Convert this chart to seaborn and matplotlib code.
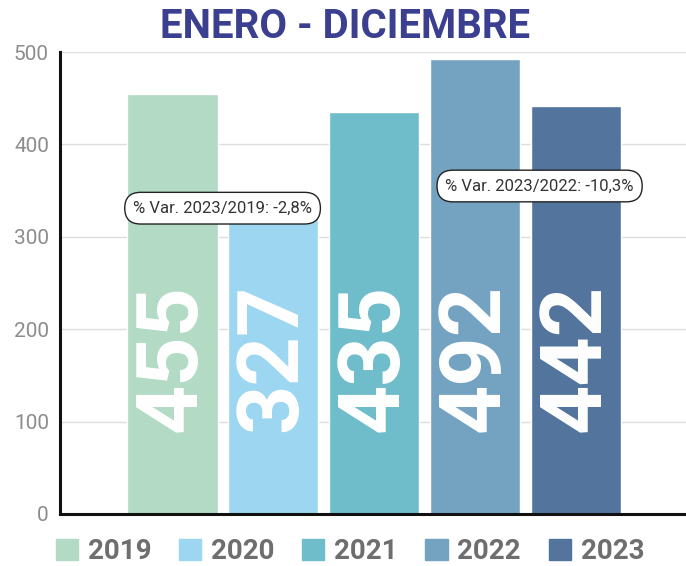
import matplotlib
matplotlib.use("Agg")
import matplotlib.pyplot as plt
import matplotlib.patches as mpatches
import seaborn as sns
import pandas as pd

# data
years  = ["2019", "2020", "2021", "2022", "2023"]
values = [455, 327, 435, 492, 442]
colors = ["#b2dac4", "#9dd6f0", "#6fbccb", "#74a3c1", "#53749d"]
notes  = ["% Var. 2023/2019: -2,8%", "% Var. 2023/2022: -10,3%"]
note_pos = [(0.5, 331), (3.64, 355)]

sns.set_theme(style="white")
plt.rcParams["font.family"] = ["Roboto", "DejaVu Sans"]

df = pd.DataFrame({"year": years, "value": values})

fig = plt.figure(figsize=(6.86, 5.66), dpi=100)
ax = fig.add_axes([0.0875, 0.092, 0.9125, 0.816])

sns.barplot(data=df, x="year", y="value", hue="year", palette=colors,
            legend=False, width=0.9, saturation=1, ax=ax, zorder=2)

ax.set_xlim(-1.11, 5.09)
ax.set_ylim(0, 500)
ax.set_yticks(range(0, 501, 100))
ax.yaxis.grid(True, color="#dddddd", linewidth=1, zorder=0)
ax.set_xticks([])
ax.set_xlabel("")
ax.set_ylabel("")
ax.tick_params(axis="y", labelsize=15, labelcolor="#8c8c8c", length=0, pad=8)

for s in ["top", "right"]:
    ax.spines[s].set_visible(False)
for s in ["left", "bottom"]:
    ax.spines[s].set_color("#111111")
    ax.spines[s].set_linewidth(2.2)

# big value labels inside bars
for i, v in enumerate(values):
    ax.text(i, 169, str(v), rotation=90, ha="center", va="center",
            color="white", fontsize=62, fontweight="bold", zorder=3)

# variation notes
for txt, (x, y) in zip(notes, note_pos):
    ax.text(x, y, txt, ha="center", va="center", fontsize=12, color="#333333",
            zorder=4,
            bbox=dict(boxstyle="round,pad=0.5,rounding_size=0.95", fc="white",
                      ec="#222222", lw=1))

fig.text(0.503, 0.952, "ENERO - DICIEMBRE", ha="center", va="center",
         fontsize=29, fontweight="bold", color="#3a3f8f")

handles = [mpatches.Patch(color=c, label=y) for c, y in zip(colors, years)]
leg = fig.legend(handles=handles, loc="center", bbox_to_anchor=(0.51, 0.026),
                 ncol=5, frameon=False, handlelength=0.8, handleheight=0.8,
                 handletextpad=0.35, columnspacing=1.0, borderpad=0.1,
                 prop={"size": 20, "weight": "bold"})
for t in leg.get_texts():
    t.set_color("#6e6e6e")

fig.savefig("out.png", dpi=100)
